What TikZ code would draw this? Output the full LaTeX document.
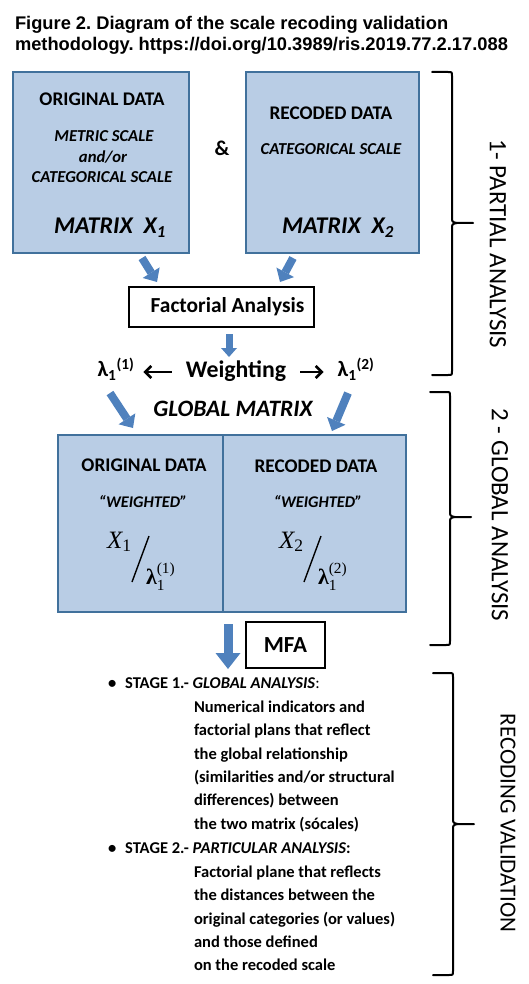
\documentclass[tikz,border=0pt]{standalone}
\usepackage{amsmath}
\usepackage{fontspec}
\setmainfont{Carlito}
\newfontfamily\headfont{Liberation Sans}
\newfontfamily\mathserif{Liberation Serif}
\usetikzlibrary{arrows.meta, positioning, calc}
\definecolor{cfill}{HTML}{B9CDE5}
\definecolor{cedge}{HTML}{41719C}
\definecolor{carrow}{HTML}{4F81BD}
\frenchspacing
\tikzset{
  every picture/.style={x=1pt, y=-1pt, line width=2pt},
  databox/.style={draw=cedge, fill=cfill, inner sep=0pt},
  whitebox/.style={draw=black, fill=white, inner sep=0pt},
  txt/.style={inner sep=0pt, font=\fontsize{#1}{#1}\selectfont\bfseries},
  txt/.default=19.3,
  itxt/.style={inner sep=0pt, font=\fontsize{#1}{#1}\selectfont\bfseries\itshape},
  itxt/.default=16.7,
  mtxt/.style={inner sep=0pt, anchor=base west, font=\mathserif\fontsize{#1}{#1}\selectfont},
  mtxt/.default=22,
  side/.style={inner sep=0pt, rotate=-90, font=\fontsize{#1}{#1}\selectfont},
  side/.default=25,
  blockarrow/.style={draw=carrow, line width=8pt, -{Triangle[width=20pt, length=11pt, line width=0pt]}},
  bigarrow/.style={draw=carrow, line width=9pt, -{Triangle[width=25pt, length=16pt, line width=0pt]}},
  thinarrow/.style={draw=black, line width=2.6pt, -{Straight Barb[length=6pt, width=12pt, line width=2.6pt]}},
  slashpen/.style={draw=black, line width=1.4pt},
  bracepen/.style={draw=black, line width=2pt, line cap=round, line join=round},
}
% a = x of the open ends, t/m/b = top, tip and bottom y
\newcommand{\sidebrace}[4]{%
  \draw[bracepen] (#1,#2) -- (#1+16,#2) .. controls (#1+20,#2) .. (#1+20,#2+4)
    -- (#1+20,#3-6) .. controls (#1+20,#3-1) .. (#1+25,#3) -- (#1+41,#3)
    -- (#1+25,#3) .. controls (#1+20,#3+1) .. (#1+20,#3+6)
    -- (#1+20,#4-4) .. controls (#1+20,#4) .. (#1+16,#4) -- (#1,#4);}

\begin{document}
\begin{tikzpicture}
  \useasboundingbox (0,0) rectangle (528,984);
  % title
  \node[anchor=base west, inner sep=0pt, font=\headfont\fontsize{18.3}{21}\selectfont\bfseries] (title1) at (14,29.5) {Figure 2. Diagram of the scale recoding validation};
  \node[anchor=base west, inner sep=0pt, font=\headfont\fontsize{18.3}{21}\selectfont\bfseries] (title2) at (14,50.5) {methodology. https://doi.org/10.3989/ris.2019.77.2.17.088};
  % partial analysis
  \node[databox, minimum width=176, minimum height=181] (orig) at (101,162.5) {};
  \node[databox, minimum width=173, minimum height=181] (rec) at (332.5,162.5) {};
  \node[txt] (origt) at (102,99) {ORIGINAL DATA};
  \node[itxt] (origs1) at (104,136) {METRIC SCALE};
  \node[itxt] (origs2) at (103,157) {and/or};
  \node[itxt] (origs3) at (102,177) {CATEGORICAL SCALE};
  \node[itxt=24] (origm) at (110,228) {MATRIX\ \ X\textsubscript{1}};
  \node[txt=21] (amp) at (222,148) {\&};
  \node[txt] (rect) at (331,113) {RECODED DATA};
  \node[itxt] (recs) at (331,149) {CATEGORICAL SCALE};
  \node[itxt=24] (recm) at (338,228) {MATRIX\ \ X\textsubscript{2}};
  \node[whitebox, minimum width=185, minimum height=40, txt=21.4] (fa) at (221.5,307) {\hspace{12pt}Factorial Analysis};
  \node[txt=23.8] (weight) at (236,371) {Weighting};
  \node[txt=22] (l1) at (116,369) {λ\textsubscript{1}\textsuperscript{(1)}};
  \node[txt=22] (l2) at (356,369) {λ\textsubscript{1}\textsuperscript{(2)}};
  \draw[blockarrow] ($(orig.south)+(41,4)$) -- ($(fa.north)+(-64.5,-4)$);
  \draw[blockarrow] ($(rec.south)+(-39.5,4)$) -- ($(fa.north)+(58.5,-4)$);
  \draw[blockarrow, line width=7pt, -{Triangle[width=16pt, length=9pt, line width=0pt]}] ($(fa.south)+(7.5,6)$) -- ($(fa.south)+(7.5,29)$);
  \draw[thinarrow] ($(weight.west)+(-13,1)$) -- ($(l1.east |- weight.west)+(8,1)$);
  \draw[thinarrow] ($(weight.east)+(13,1)$) -- ($(l2.west |- weight.east)+(-13,1)$);
  % global matrix
  \node[itxt=23.5] (gm) at (233,409) {GLOBAL MATRIX};
  \node[databox, minimum width=165, minimum height=177] (gl) at (140.5,523.5) {};
  \node[databox, minimum width=183, minimum height=177] (gr) at (314.5,523.5) {};
  \node[txt] (glt) at (144,465) {ORIGINAL DATA};
  \node[itxt=16.3] (glw) at (143,502) {“WEIGHTED”};
  \node[txt] (grt) at (316,466) {RECODED DATA};
  \node[itxt=16.3] (grw) at (318,502) {“WEIGHTED”};
  \node[mtxt=25] (glx) at (106,548) {\itshape X$_{\text{\upshape 1}}$};
  \node[mtxt] (gll) at (145,584) {{\bfseries λ}$_{\text{1}}^{\text{(1)}}$};
  \draw[slashpen] ($(glx.base west)+(26,34)$) -- ($(glx.base west)+(43,-12)$);
  \node[mtxt=25] (grx) at (278,548) {\itshape X$_{\text{\upshape 2}}$};
  \node[mtxt] (grl) at (317,584) {{\bfseries λ}$_{\text{1}}^{\text{(2)}}$};
  \draw[slashpen] ($(grx.base west)+(26,34)$) -- ($(grx.base west)+(43,-12)$);
  \draw[blockarrow] ($(l1.south)+(-6,12)$) -- ($(gl.north)+(-7.5,-6)$);
  \draw[blockarrow] ($(l2.south)+(-8,12)$) -- ($(gr.north)+(17.5,-3)$);
  \node[whitebox, minimum width=79, minimum height=46, txt=23] (mfa) at (285.5,645) {MFA};
  \draw[bigarrow] ($(gl.south east)+(4,11)$) -- ($(gl.south east)+(4,56)$);
  % recoding validation
  \node[anchor=base west, inner sep=0pt, font=\fontsize{16.5}{23.3}\selectfont\bfseries] (st1) at (107,688) {\textbullet\hspace{9pt}STAGE 1.- \textit{GLOBAL ANALYSIS}\textmd{:}};
  \node[anchor=north west, inner sep=0pt, align=left, font=\fontsize{16.5}{23.3}\selectfont\bfseries] (d1) at (193,700) {Numerical indicators and\\factorial plans that reflect\\the global relationship\\(similarities and/or structural\\differences) between\\the two matrix (sócales)};
  \node[anchor=base west, inner sep=0pt, font=\fontsize{16.5}{23.3}\selectfont\bfseries] (st2) at (107,853) {\textbullet\hspace{9pt}STAGE 2.- \textit{PARTICULAR ANALYSIS}:};
  \node[anchor=north west, inner sep=0pt, align=left, font=\fontsize{16.5}{23.3}\selectfont\bfseries] (d2) at (193,865) {Factorial plane that reflects\\the distances between the\\original categories (or values)\\and those defined\\on the recoded scale};
  % braces
  \sidebrace{432}{72}{223}{375}
  \sidebrace{430}{392}{517}{645}
  \sidebrace{433}{673}{824}{975}
  \node[side] (s1) at (498,244) {1- PARTIAL ANALYSIS};
  \node[side] (s2) at (500,515) {2 - GLOBAL ANALYSIS};
  \node[side=23] (s3) at (508,823) {RECODING VALIDATION};
\end{tikzpicture}
\end{document}
